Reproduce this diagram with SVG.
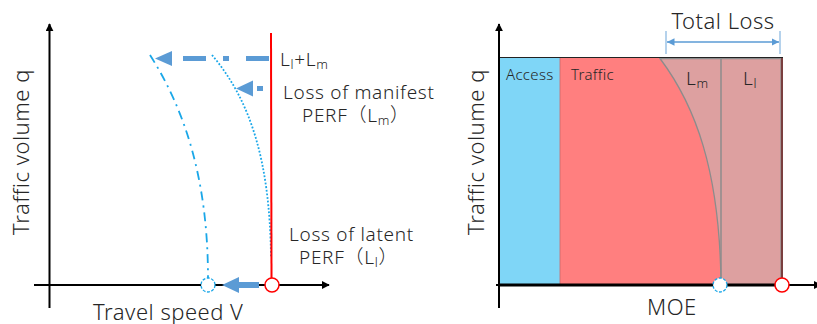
<svg xmlns="http://www.w3.org/2000/svg" width="817" height="324" viewBox="0 0 817 324">
<style>
text{font-family:"Noto Sans","Noto Sans CJK JP",sans-serif;fill:#262626;font-weight:300}
.ax{stroke:#000;stroke-width:2;fill:none}
.lbl{font-size:22px;letter-spacing:0.5px}
.mid{font-size:19px;letter-spacing:0.7px}
.sm{font-size:15px;letter-spacing:0.3px}
.sub{font-size:13px}
.blue{fill:#5B9BD5}
</style>
<defs>
<marker id="ah" viewBox="0 0 10 10" refX="9" refY="5" markerWidth="4" markerHeight="4" orient="auto-start-reverse" markerUnits="strokeWidth">
<path d="M0,0 L10,5 L0,10 Z" fill="#000"/>
</marker>
<marker id="dh" viewBox="0 0 10 10" refX="10" refY="5" markerWidth="5" markerHeight="5" orient="auto-start-reverse" markerUnits="strokeWidth">
<path d="M0,0 L10,5 L0,10 Z" fill="#5B9BD5"/>
</marker>
</defs>
<rect width="817" height="324" fill="#fff"/>

<g id="left-chart">
<line class="ax" x1="34" y1="285" x2="329" y2="285" marker-end="url(#ah)"/>
<line class="ax" x1="49.5" y1="308" x2="49.5" y2="24" marker-end="url(#ah)"/>
<text class="lbl" transform="translate(29,152) rotate(-90)" text-anchor="middle">Traffic volume q</text>
<text class="lbl" x="93" y="320">Travel speed V</text>
<path d="M150,55 C185,110 208,180 208,278" fill="none" stroke="#1AA7E8" stroke-width="1.8" stroke-dasharray="9 5 2 5"/>
<path d="M212,55 C250,100 270,160 271,258" fill="none" stroke="#1AA7E8" stroke-width="1.8" stroke-dasharray="1.8 1.8"/>
<path d="M271,33 L271.5,278" fill="none" stroke="#FF0000" stroke-width="2"/>
<circle cx="208" cy="285" r="7" fill="#fff" stroke="#1AA7E8" stroke-width="1.3" stroke-dasharray="3 1.5"/>
<circle cx="272" cy="285" r="7" fill="#fff" stroke="#FF0000" stroke-width="1.5"/>
<text class="mid" x="280" y="66">L<tspan class="sub" dy="3">l</tspan><tspan dy="-3">+L</tspan><tspan class="sub" dy="3">m</tspan></text>
<text class="mid" x="283" y="99">Loss of manifest</text>
<text class="mid" x="302" y="122">PERF（L<tspan class="sub" dy="3">m</tspan><tspan dy="-3">）</tspan></text>
<text class="mid" x="289" y="241">Loss of latent</text>
<text class="mid" x="299" y="264">PERF（L<tspan class="sub" dy="3">l</tspan><tspan dy="-3">）</tspan></text>
</g>

<g id="right-chart">
<rect x="499" y="57.5" width="61" height="227.5" fill="#7FD6F7"/>
<rect x="560" y="57.5" width="222" height="227.5" fill="#FF7F7F" stroke="#C86A6A" stroke-width="0.8"/>
<path d="M660,58.5 C695,105 720,170 721,285 L781,285 L781,58.5 Z" fill="#DDA0A0" stroke="#8C8C8C" stroke-width="1.3"/>
<line x1="721" y1="58.5" x2="721" y2="285" stroke="#8C8C8C" stroke-width="1.5"/>
<line x1="782" y1="57.5" x2="782" y2="285" stroke="#7A3F3F" stroke-width="2"/>
<line x1="499" y1="57.5" x2="783" y2="57.5" stroke="#222" stroke-width="1"/>
<line class="ax" x1="496" y1="285" x2="821" y2="285" marker-end="url(#ah)"/>
<line x1="499" y1="285" x2="782" y2="285" stroke="#000" stroke-width="3"/>
<line class="ax" x1="499" y1="308" x2="499" y2="24" marker-end="url(#ah)"/>
<circle cx="720" cy="285" r="7" fill="#fff" stroke="#1AA7E8" stroke-width="1.3" stroke-dasharray="3 1.5"/>
<circle cx="782" cy="285" r="7" fill="#fff" stroke="#FF0000" stroke-width="1.5"/>
<text class="lbl" transform="translate(484,152) rotate(-90)" text-anchor="middle">Traffic volume q</text>
<text class="lbl" x="647" y="315">MOE</text>
<text class="lbl" x="723" y="29" text-anchor="middle">Total Loss</text>
<text class="sm" x="506" y="80">Access</text>
<text class="sm" x="571" y="80">Traffic</text>
<text class="mid" x="686" y="85">L<tspan class="sub" dy="3">m</tspan></text>
<text class="mid" x="743" y="85">L<tspan class="sub" dy="3">l</tspan></text>
<line x1="666" y1="31" x2="666" y2="54" stroke="#9DC3E6" stroke-width="1.5"/>
<line x1="780" y1="31" x2="780" y2="54" stroke="#9DC3E6" stroke-width="1.5"/>
</g>

<g id="connectors">
<line x1="269" y1="58.5" x2="172" y2="58.5" stroke="#5B9BD5" stroke-width="5" stroke-dasharray="23 17 6 17 23 11"/>
<polygon class="blue" points="155,58.5 172,51 172,66"/>
<polygon class="blue" points="236,88.5 253,80.5 253,96.5"/>
<rect class="blue" x="257" y="86" width="6" height="5"/>
<rect class="blue" x="238" y="282" width="21" height="6"/>
<polygon class="blue" points="222,285 239,277 239,293"/>
<line x1="667" y1="42" x2="779" y2="42" stroke="#5B9BD5" stroke-width="1.5" marker-start="url(#dh)" marker-end="url(#dh)"/>
</g>
</svg>
